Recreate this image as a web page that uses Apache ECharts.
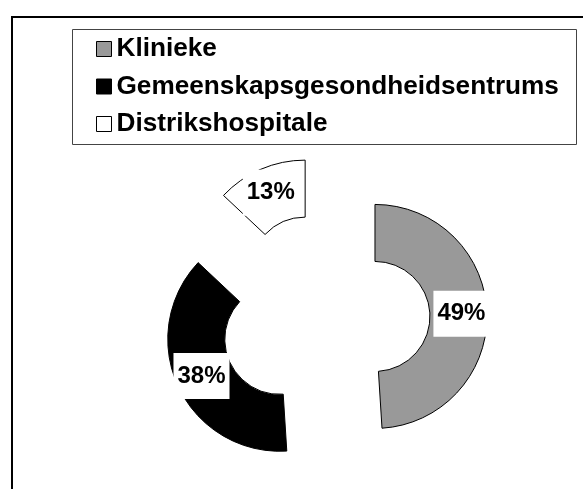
<!DOCTYPE html>
<html>
<head>
<meta charset="utf-8">
<script src="https://cdn.jsdelivr.net/npm/echarts@6/dist/echarts.min.js"></script>
<style>
  html, body { margin: 0; padding: 0; background: #fff; }
  #chart { width: 583px; height: 489px; }
</style>
</head>
<body>
<div id="chart"></div>
<script>
// Share of facilities by type (percent)
const categories = ['Klinieke', 'Gemeenskapsgesondheidsentrums', 'Distrikshospitale'];
const shares = [49, 38, 13];
const sliceColors = ['#999999', '#000000', '#ffffff'];

const FONT = '"Liberation Sans", Arial, sans-serif';

const chart = echarts.init(document.getElementById('chart'), null, { renderer: 'canvas' });

const pieData = categories.map((name, i) => ({
  name: name,
  value: shares[i],
  selected: true,
  itemStyle: {
    color: sliceColors[i],
    borderColor: '#000',
    borderWidth: 1
  }
}));

chart.setOption({
  animation: false,
  backgroundColor: '#fff',
  graphic: [
    // outer chart frame (runs past the right and bottom edges)
    {
      type: 'rect', z: -10,
      shape: { x: 12, y: 17, width: 620, height: 520 },
      style: { fill: 'none', stroke: '#000', lineWidth: 2 }
    },
    // legend box
    {
      type: 'rect', z: -5,
      shape: { x: 72.5, y: 29.5, width: 504, height: 115 },
      style: { fill: '#fff', stroke: '#444', lineWidth: 1 }
    }
  ],
  legend: {
    orient: 'vertical',
    left: 96,
    top: 34,
    padding: 0,
    icon: 'rect',
    itemWidth: 15,
    itemHeight: 15,
    itemGap: 7.5,
    selectedMode: false,
    itemStyle: { borderColor: '#000', borderWidth: 1 },
    textStyle: {
      fontFamily: FONT,
      fontSize: 26.2,
      fontWeight: 'bold',
      color: '#000',
      lineHeight: 30
    },
    data: categories
  },
  series: [{
    type: 'pie',
    center: [325, 318],
    radius: [55, 112],
    startAngle: 90,
    clockwise: true,
    selectedMode: 'multiple',
    selectedOffset: 50,
    avoidLabelOverlap: false,
    emphasis: { disabled: true },
    label: {
      show: true,
      position: 'inside',
      formatter: '{c}%',
      fontFamily: FONT,
      fontSize: 24,
      fontWeight: 'bold',
      color: '#000',
      backgroundColor: '#fff',
      padding: [11, 4, 11, 4]
    },
    labelLine: { show: false },
    data: pieData
  }]
});
</script>
</body>
</html>
